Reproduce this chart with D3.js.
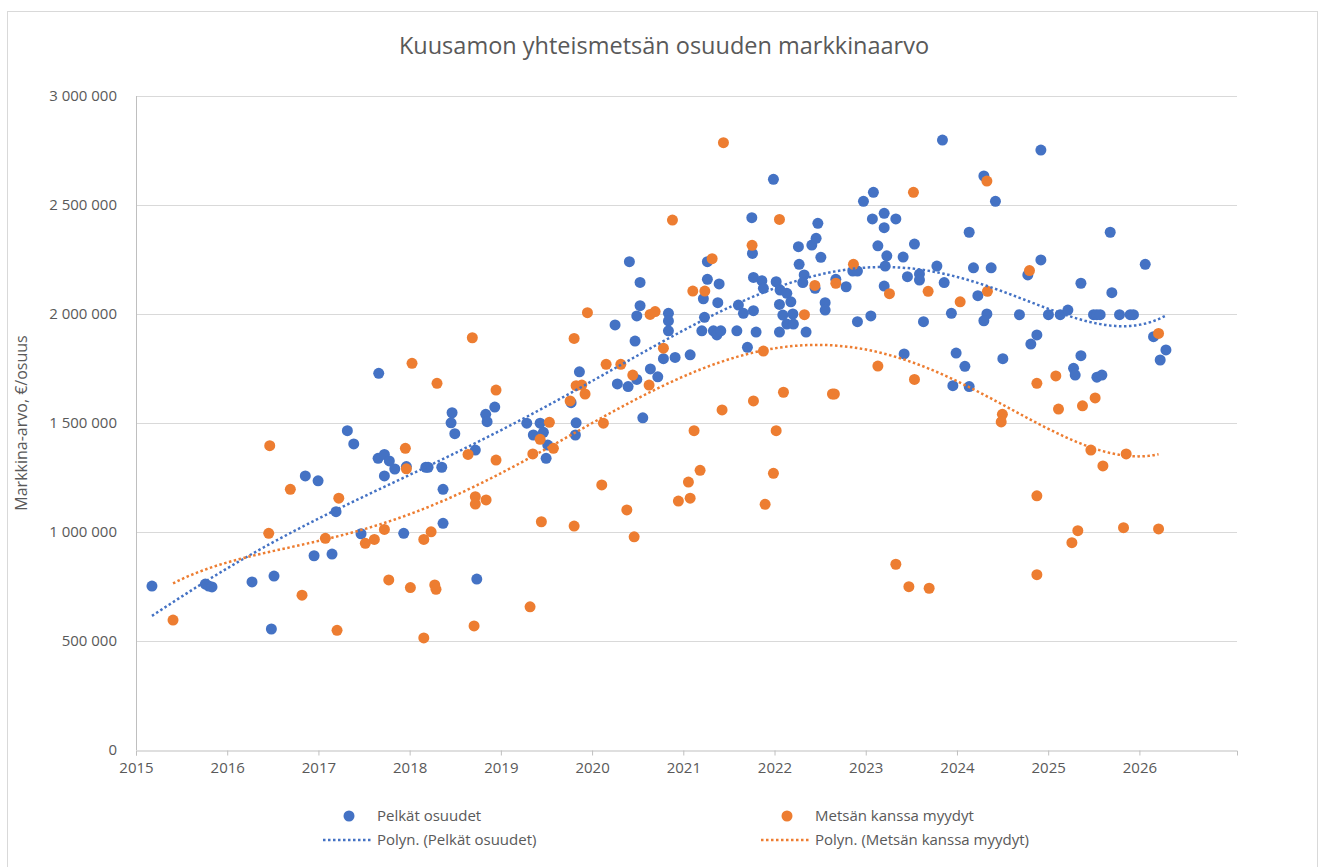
<!DOCTYPE html>
<html>
<head>
<meta charset="utf-8">
<script src="https://cdn.jsdelivr.net/npm/d3@7"></script>
<style>
  body { margin: 0; background: #fff; }
  svg text { font-family: "Open Sans", sans-serif; fill: #595959; }
</style>
</head>
<body>
<div class="chartContainer"></div>
<script>
// Colors
var blueFill = "#4472c4";
var orangeFill = "#ed7d31";
var gridColor = "#d9d9d9";
var axisColor = "#bfbfbf";

// Data: [year, value]
var pelkatOsuudet = [
  [2015.175, 752000], [2015.760, 761000], [2015.797, 752000], [2015.833, 748000],
  [2016.272, 771000], [2016.513, 798000], [2016.484, 555000], [2016.856, 1257000],
  [2016.996, 1235000], [2016.952, 891000], [2017.149, 899000], [2017.193, 1093000],
  [2017.317, 1465000], [2017.387, 1404000], [2017.467, 992000], [2017.661, 1728000],
  [2017.654, 1338000], [2017.723, 1356000], [2017.777, 1326000], [2017.837, 1289000],
  [2017.723, 1257000], [2017.964, 1300000], [2017.935, 994000], [2018.177, 1297000],
  [2018.202, 1297000], [2018.352, 1297000], [2018.366, 1196000], [2018.366, 1040000],
  [2018.465, 1547000], [2018.454, 1501000], [2018.495, 1451000], [2018.720, 1376000],
  [2018.736, 784000], [2018.834, 1540000], [2018.849, 1506000], [2018.933, 1573000],
  [2019.284, 1499000], [2019.430, 1499000], [2019.356, 1445000], [2019.466, 1457000],
  [2019.514, 1399000], [2019.496, 1338000], [2019.825, 1501000], [2019.817, 1445000],
  [2019.770, 1593000], [2019.861, 1735000], [2020.409, 2240000], [2020.526, 2145000],
  [2020.526, 2038000], [2020.490, 1991000], [2020.252, 1950000], [2020.471, 1876000],
  [2020.277, 1679000], [2020.395, 1667000], [2020.490, 1700000], [2020.639, 1748000],
  [2020.720, 1712000], [2020.782, 1795000], [2020.910, 1801000], [2021.075, 1813000],
  [2020.556, 1524000], [2020.837, 2003000], [2020.837, 1968000], [2020.837, 1923000],
  [2021.220, 2070000], [2021.264, 2159000], [2021.264, 2240000], [2021.393, 2138000],
  [2021.378, 2052000], [2021.232, 1985000], [2021.203, 1923000], [2021.330, 1923000],
  [2021.368, 1904000], [2021.411, 1923000], [2021.587, 1923000], [2021.798, 1917000],
  [2021.703, 1847000], [2021.604, 2041000], [2021.659, 2003000], [2021.769, 2015000],
  [2021.751, 2442000], [2021.758, 2278000], [2021.769, 2168000], [2021.861, 2153000],
  [2021.878, 2118000], [2021.988, 2618000], [2022.018, 2148000], [2022.061, 2110000],
  [2022.135, 2095000], [2022.179, 2056000], [2022.054, 2044000], [2022.091, 1995000],
  [2022.201, 2000000], [2022.135, 1954000], [2022.207, 1954000], [2022.054, 1917000],
  [2022.346, 1917000], [2022.262, 2309000], [2022.270, 2228000], [2022.325, 2179000],
  [2022.310, 2144000], [2022.445, 2118000], [2022.409, 2316000], [2022.456, 2347000],
  [2022.475, 2416000], [2022.508, 2260000], [2022.555, 2052000], [2022.555, 2018000],
  [2022.672, 2159000], [2022.785, 2125000], [2022.858, 2197000], [2022.909, 2197000],
  [2022.909, 1965000], [2022.975, 2517000], [2023.084, 2558000], [2023.056, 1991000],
  [2023.073, 2436000], [2023.202, 2462000], [2023.202, 2396000], [2023.330, 2436000],
  [2023.133, 2313000], [2023.231, 2267000], [2023.213, 2220000], [2023.202, 2128000],
  [2023.410, 2261000], [2023.534, 2321000], [2023.457, 2171000], [2023.589, 2183000],
  [2023.589, 2156000], [2023.780, 2220000], [2023.860, 2144000], [2023.421, 1817000],
  [2023.633, 1965000], [2023.841, 2798000], [2023.939, 2003000], [2023.991, 1821000],
  [2024.087, 1760000], [2023.955, 1671000], [2024.134, 1667000], [2024.134, 2375000],
  [2024.181, 2212000], [2024.229, 2084000], [2024.295, 2633000], [2024.422, 2517000],
  [2024.328, 2000000], [2024.295, 1969000], [2024.375, 2212000], [2024.503, 1795000],
  [2024.920, 2752000], [2024.920, 2248000], [2024.777, 2179000], [2024.685, 1997000],
  [2024.876, 1904000], [2024.810, 1862000], [2025.003, 1997000], [2025.132, 1997000],
  [2025.216, 2018000], [2025.359, 2141000], [2025.359, 1809000], [2025.278, 1751000],
  [2025.296, 1720000], [2025.497, 1997000], [2025.534, 1997000], [2025.570, 1997000],
  [2025.534, 1710000], [2025.589, 1720000], [2025.680, 2375000], [2025.698, 2098000],
  [2025.782, 1997000], [2025.899, 1997000], [2025.935, 1997000], [2026.064, 2228000],
  [2026.155, 1896000], [2026.228, 1789000], [2026.291, 1835000]
];

var metsanKanssa = [
  [2015.406, 596000], [2016.466, 1396000], [2016.455, 994000], [2016.692, 1196000],
  [2016.820, 710000], [2017.223, 1155000], [2017.076, 971000], [2017.204, 549000],
  [2017.514, 948000], [2017.613, 966000], [2017.723, 1012000], [2017.771, 780000],
  [2018.026, 1774000], [2017.953, 1384000], [2017.964, 1290000], [2018.008, 745000],
  [2018.155, 966000], [2018.235, 1001000], [2018.155, 514000], [2018.275, 757000],
  [2018.289, 737000], [2018.300, 1682000], [2018.687, 1891000], [2018.947, 1651000],
  [2018.947, 1330000], [2018.640, 1356000], [2018.720, 1162000], [2018.720, 1128000],
  [2018.838, 1147000], [2018.706, 569000], [2021.440, 2786000], [2020.881, 2431000],
  [2021.754, 2315000], [2022.054, 2434000], [2021.316, 2254000], [2021.104, 2105000],
  [2021.236, 2105000], [2019.949, 2006000], [2019.803, 1888000], [2020.636, 1998000],
  [2020.691, 2011000], [2020.782, 1843000], [2020.154, 1769000], [2020.315, 1769000],
  [2020.446, 1720000], [2020.625, 1674000], [2019.825, 1671000], [2019.887, 1674000],
  [2019.923, 1633000], [2019.759, 1601000], [2021.878, 1830000], [2021.425, 1560000],
  [2021.769, 1601000], [2019.532, 1503000], [2019.430, 1425000], [2019.350, 1358000],
  [2019.576, 1384000], [2020.124, 1499000], [2020.106, 1216000], [2019.444, 1047000],
  [2019.803, 1027000], [2020.381, 1101000], [2020.461, 978000], [2019.320, 657000],
  [2021.118, 1465000], [2021.184, 1283000], [2021.056, 1229000], [2020.946, 1142000],
  [2021.075, 1155000], [2022.018, 1465000], [2021.988, 1269000], [2021.897, 1127000],
  [2023.523, 2558000], [2024.328, 2610000], [2022.865, 2228000], [2022.442, 2131000],
  [2022.672, 2141000], [2022.328, 1997000], [2023.260, 2093000], [2023.684, 2104000],
  [2024.035, 2056000], [2024.334, 2104000], [2023.133, 1761000], [2023.534, 1700000],
  [2022.098, 1641000], [2022.635, 1633000], [2022.656, 1633000], [2024.498, 1540000],
  [2024.485, 1505000], [2025.113, 1564000], [2025.376, 1579000], [2025.515, 1615000],
  [2025.468, 1376000], [2025.855, 1358000], [2025.600, 1303000], [2024.876, 1166000],
  [2025.325, 1006000], [2025.260, 951000], [2025.826, 1020000], [2026.210, 1014000],
  [2023.330, 852000], [2023.473, 749000], [2023.695, 742000], [2024.876, 804000],
  [2024.795, 2199000], [2024.876, 1682000], [2025.084, 1716000], [2026.210, 1911000]
];

var xTickYears = [2015, 2016, 2017, 2018, 2019, 2020, 2021, 2022, 2023, 2024, 2025, 2026];
var yTickValues = [0, 500000, 1000000, 1500000, 2000000, 2500000, 3000000];
var seriesNames = ["Pelkät osuudet", "Metsän kanssa myydyt"];
var trendOrders = [6, 5];

var width = 1320, height = 867;
var plot = { left: 136, right: 1237, top: 96, bottom: 750 };

var svg = d3.select(".chartContainer").append("svg")
    .attr("width", width)
    .attr("height", height);

// chart border
svg.append("rect")
    .attr("x", 7.5).attr("y", 11.5)
    .attr("width", 1310).attr("height", 870)
    .attr("fill", "#fff")
    .attr("stroke", gridColor);

var x = d3.scaleLinear().domain([2015, 2027.07]).range([plot.left, plot.right]);
var y = d3.scaleLinear().domain([0, 3000000]).range([plot.bottom, plot.top]);

// title
svg.append("text")
    .attr("x", 664).attr("y", 54)
    .attr("text-anchor", "middle")
    .attr("font-size", "23.5px")
    .text("Kuusamon yhteismetsän osuuden markkinaarvo");

// gridlines
svg.append("g").selectAll("line").data(yTickValues.slice(1)).enter().append("line")
    .attr("x1", plot.left).attr("x2", plot.right)
    .attr("y1", (d) => Math.round(y(d)) + 0.5).attr("y2", (d) => Math.round(y(d)) + 0.5)
    .attr("stroke", gridColor).attr("stroke-width", 1);

// y axis labels
var fmt = (d) => d3.format(",")(d).replace(/,/g, "\u00a0");
svg.append("g").selectAll("text").data(yTickValues).enter().append("text")
    .attr("x", 117)
    .attr("y", (d) => y(d) + 5)
    .attr("text-anchor", "end")
    .attr("font-size", "15px")
    .text(fmt);

// axis lines
svg.append("line")
    .attr("x1", plot.left + 0.5).attr("x2", plot.left + 0.5)
    .attr("y1", plot.top).attr("y2", plot.bottom)
    .attr("stroke", axisColor);

var xAxis = d3.axisBottom(x).tickValues(xTickYears).tickFormat(d3.format("d")).tickSize(5).tickPadding(7);
var xg = svg.append("g")
    .attr("transform", "translate(0," + (plot.bottom + 0.5) + ")")
    .call(xAxis);
xg.select(".domain").attr("stroke", axisColor);
xg.selectAll(".tick line").attr("stroke", axisColor);
xg.selectAll(".tick text")
    .attr("font-size", "15px")
    .attr("font-family", "'Open Sans', sans-serif")
    .attr("fill", "#595959");

// y axis title
svg.append("text")
    .attr("transform", "translate(27,423) rotate(-90)")
    .attr("text-anchor", "middle")
    .attr("font-size", "16px")
    .text("Markkina-arvo, €/osuus");

// polynomial least squares, x centred and scaled
function polyFit(data, order) {
    var t = (v) => (v - 2020.5) / 6;
    var n = order + 1;
    var A = [], b = [];
    for (var i = 0; i < n; i++) { A.push(new Array(n).fill(0)); b.push(0); }
    data.forEach((d) => {
        var xv = t(d[0]);
        for (var i = 0; i < n; i++) {
            for (var j = 0; j < n; j++) A[i][j] += Math.pow(xv, i + j);
            b[i] += Math.pow(xv, i) * d[1];
        }
    });
    for (var c = 0; c < n; c++) {
        var p = c;
        for (var r = c + 1; r < n; r++) if (Math.abs(A[r][c]) > Math.abs(A[p][c])) p = r;
        [A[c], A[p]] = [A[p], A[c]]; [b[c], b[p]] = [b[p], b[c]];
        for (var r = c + 1; r < n; r++) {
            var f = A[r][c] / A[c][c];
            for (var k = c; k < n; k++) A[r][k] -= f * A[c][k];
            b[r] -= f * b[c];
        }
    }
    var coef = new Array(n).fill(0);
    for (var r = n - 1; r >= 0; r--) {
        var s = b[r];
        for (var k = r + 1; k < n; k++) s -= A[r][k] * coef[k];
        coef[r] = s / A[r][r];
    }
    return (v) => coef.reduce((acc, cf, i) => acc + cf * Math.pow(t(v), i), 0);
}

function trendPoints(data, order) {
    var f = polyFit(data, order);
    var ext = d3.extent(data, (d) => d[0]);
    return d3.range(0, 201).map((i) => {
        var xv = ext[0] + (ext[1] - ext[0]) * i / 200;
        return [xv, f(xv)];
    });
}

var line = d3.line().x((d) => x(d[0])).y((d) => y(d[1]));

var plotG = svg.append("g");

// markers
var drawDots = function (data, color, cls) {
    plotG.selectAll("." + cls).data(data).enter().append("circle")
        .attr("class", cls)
        .attr("cx", (d) => x(d[0]))
        .attr("cy", (d) => y(d[1]))
        .attr("r", 5.5)
        .style("fill", color);
};
drawDots(pelkatOsuudet, blueFill, "blueDots");
drawDots(metsanKanssa, orangeFill, "orangeDots");

// trend lines
[[pelkatOsuudet, blueFill, trendOrders[0]], [metsanKanssa, orangeFill, trendOrders[1]]].forEach((s) => {
    plotG.append("path")
        .datum(trendPoints(s[0], s[2]))
        .attr("d", line)
        .attr("fill", "none")
        .attr("stroke", s[1])
        .attr("stroke-width", 2.5)
        .attr("stroke-dasharray", "2.5,2.5");
});

// legend
var legend = svg.append("g");
var legendItems = [
    { type: "dot", color: blueFill, label: seriesNames[0], x: 349, y: 816 },
    { type: "dot", color: orangeFill, label: seriesNames[1], x: 787, y: 816 },
    { type: "line", color: blueFill, label: "Polyn. (" + seriesNames[0] + ")", x: 349, y: 840 },
    { type: "line", color: orangeFill, label: "Polyn. (" + seriesNames[1] + ")", x: 787, y: 840 }
];
legendItems.forEach((it) => {
    if (it.type === "dot") {
        legend.append("circle").attr("cx", it.x).attr("cy", it.y).attr("r", 5.5).style("fill", it.color);
    } else {
        legend.append("line")
            .attr("x1", it.x - 26).attr("x2", it.x + 24)
            .attr("y1", it.y).attr("y2", it.y)
            .attr("stroke", it.color).attr("stroke-width", 2.5)
            .attr("stroke-dasharray", "2.5,2.5");
    }
    legend.append("text")
        .attr("x", it.x + 28).attr("y", it.y + 5)
        .attr("font-size", "15px")
        .text(it.label);
});
</script>
</body>
</html>
